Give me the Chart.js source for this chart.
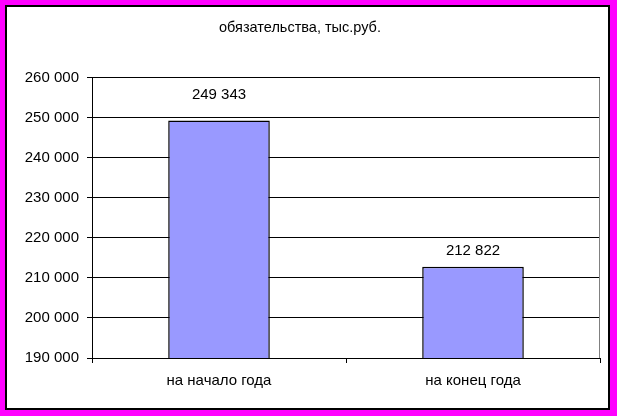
<!DOCTYPE html>
<html>
<head>
<meta charset="utf-8">
<script src="https://cdn.jsdelivr.net/npm/chart.js@4"></script>
<style>
    body { margin: 0; background: #ff00ff; width: 617px; height: 416px; position: relative; overflow: hidden; }
    .frame { position: absolute; left: 5px; top: 5px; width: 601px; height: 401px; background: #fff; border: 2px solid #000; }
    #barChart { position: absolute; left: 0; top: 0; }
</style>
</head>
<body>
<div class="frame"></div>
<canvas id="barChart" width="617" height="416"></canvas>
<script>
// data
const categories = ['на начало года', 'на конец года'];
const liabilities = [249343, 212822];
const yMin = 190000;
const yMax = 260000;
const yStep = 10000;

// "249343" -> "249 343"
function fmt(v) {
    return String(v).replace(/\B(?=(\d{3})+(?!\d))/g, ' ');
}

Chart.defaults.font.family = '"Liberation Sans", Arial, sans-serif';
Chart.defaults.color = '#000';

// value labels above bars + grey right edge of plot area
const barLabels = {
    id: 'barLabels',
    afterDatasetsDraw(chart, args, opts) {
        const ctx = chart.ctx;
        const area = chart.chartArea;
        ctx.save();
        ctx.strokeStyle = '#808080';
        ctx.lineWidth = 1;
        ctx.beginPath();
        ctx.moveTo(area.right - 0.5, area.top);
        ctx.lineTo(area.right - 0.5, area.bottom);
        ctx.stroke();

        ctx.font = '15px "Liberation Sans", Arial, sans-serif';
        ctx.fillStyle = '#000';
        ctx.textAlign = 'center';
        ctx.textBaseline = 'middle';
        chart.getDatasetMeta(0).data.forEach(function(bar, i) {
            ctx.fillText(fmt(liabilities[i]), bar.x, bar.y - opts.offsets[i]);
        });
        ctx.restore();
    }
};

const config = {
    type: 'bar',
    data: {
        labels: categories,
        datasets: [{
            data: liabilities,
            backgroundColor: '#9999ff',
            borderColor: '#000',
            borderWidth: 1.5,
            borderSkipped: false,
            barPercentage: 0.4,
            categoryPercentage: 1
        }]
    },
    options: {
        responsive: false,
        animation: false,
        layout: {
            padding: { left: 0, right: 17, top: 0, bottom: 0 }
        },
        plugins: {
            legend: { display: false },
            tooltip: { enabled: false },
            title: {
                display: true,
                text: 'обязательства, тыс.руб.',
                font: { size: 14.5, weight: 'normal' },
                color: '#000',
                padding: { top: 19.5, bottom: 41 }
            },
            barLabels: { offsets: [26, 16] }
        },
        scales: {
            x: {
                grid: {
                    drawOnChartArea: false,
                    drawTicks: true,
                    tickLength: 5,
                    color: '#000'
                },
                border: { color: '#000', width: 1 },
                ticks: { font: { size: 15 }, padding: 9 },
                afterFit(scale) { scale.height = 416 - 358; }
            },
            y: {
                min: yMin,
                max: yMax,
                grid: {
                    color: '#000',
                    tickLength: 5,
                    tickColor: '#000'
                },
                border: { color: '#000', width: 1 },
                ticks: {
                    stepSize: yStep,
                    font: { size: 15 },
                    padding: 8,
                    callback: function(v) { return fmt(v); }
                },
                afterFit(scale) { scale.width = 92; }
            }
        }
    },
    plugins: [barLabels]
};

const chart = new Chart(document.getElementById('barChart'), config);
</script>
</body>
</html>
